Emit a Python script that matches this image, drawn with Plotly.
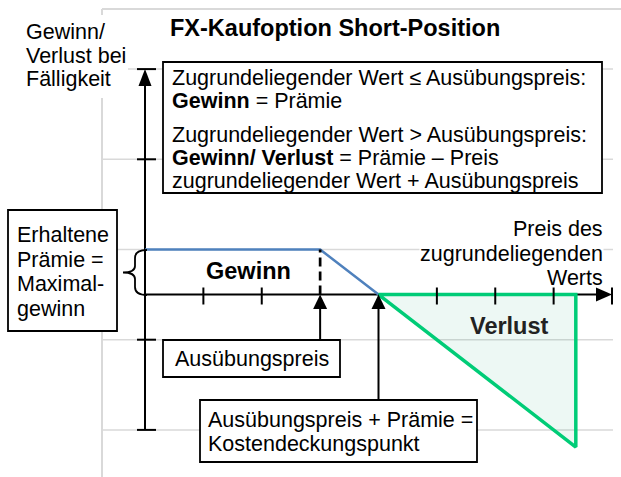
import plotly.graph_objs as go

# --- chart values (price units on x, profit/loss units on y) ---
STRIKE = 3
PREMIUM = 1
BREAK_EVEN = STRIKE + PREMIUM
X_MAX = 8
Y_MIN = -3
Y_MAX = 5

profit_x = [0, STRIKE, BREAK_EVEN]
profit_y = [PREMIUM, PREMIUM, 0]
loss_x = [BREAK_EVEN, 7.38, 7.38, BREAK_EVEN]
loss_y = [0, 0, -3.38, 0]

grid_levels = [5, 3, 1, -1, -3]
y_ticks = [5, 3, -1, -3]
x_ticks = [1, 2, 5, 6, 7, 8]

title_text = "FX-Kaufoption Short-Position"
y_label = ["Gewinn/", "Verlust bei", "Fälligkeit"]
x_label = ["Preis des", "zugrundeliegenden", "Werts"]
premium_label = ["Erhaltene", "Prämie =", "Maximal-", "gewinn"]
rule_lines = [
    "Zugrundeliegender Wert ≤ Ausübungspreis:",
    "<b>Gewinn</b> = Prämie",
    "Zugrundeliegender Wert > Ausübungspreis:",
    "<b>Gewinn/ Verlust</b> = Prämie – Preis",
    "zugrundeliegender Wert + Ausübungspreis",
]
strike_label = "Ausübungspreis"
breakeven_label = ["Ausübungspreis + Prämie =", "Kostendeckungspunkt"]

# --- pixel <-> data helpers (figure is 621 x 477, no margins) ---
W, H = 621, 477
X0, XS = 145, 58.375
Y0, YS = 294.6, 45.1


def dx(px):
    return (px - X0) / XS


def dy(py):
    return (Y0 - py) / YS


def px_x(v):
    return X0 + v * XS


def px_y(v):
    return Y0 - v * YS


FONT = "Liberation Sans, Arial, sans-serif"
BODY = 21.5
BIG = 23.5
GRID = "#d9d9d9"
BLUE = "#4f81bd"
GREEN = "#00cc77"

fig = go.Figure()

# gewinn line
fig.add_trace(go.Scatter(x=profit_x, y=profit_y, mode="lines",
                         line={"color": BLUE, "width": 2.5}, hoverinfo="skip"))
# verlust triangle
fig.add_trace(go.Scatter(x=loss_x, y=loss_y, mode="lines", fill="toself",
                         fillcolor="rgba(0,150,100,0.07)",
                         line={"color": GREEN, "width": 3.5}, hoverinfo="skip"))

shapes = []


def line(x0, y0, x1, y1, color="black", width=2, layer="above", dash="solid"):
    shapes.append(dict(type="line", x0=x0, y0=y0, x1=x1, y1=y1, layer=layer,
                       line={"color": color, "width": width, "dash": dash}))


def rect(px0, py0, px1, py1):
    shapes.append(dict(type="rect", x0=dx(px0), y0=dy(py0), x1=dx(px1), y1=dy(py1),
                       layer="above", fillcolor="white",
                       line={"color": "black", "width": 1.8}))


def path(points, fill=None, width=0):
    d = "M " + " L ".join(f"{dx(a)},{dy(b)}" for a, b in points) + " Z"
    shapes.append(dict(type="path", path=d, layer="above", fillcolor=fill,
                       line={"color": "black", "width": width}))


# frame + grid
line(dx(102), dy(9), dx(102), dy(W), color=GRID, width=2, layer="below")
line(dx(102), dy(9), dx(W), dy(9), color=GRID, width=2, layer="below")
for g in grid_levels:
    line(dx(102), g, dx(613), g, color=GRID, width=1.5, layer="below")
# white patch behind the y label
shapes.append(dict(type="rect", x0=dx(20), y0=dy(15), x1=dx(128), y1=dy(98),
                   layer="below", fillcolor="white", line={"width": 0}))

# axes
line(0, Y_MIN, 0, dy(80), layer="below")
line(0, 0, dx(600), 0, layer="below")
for t in y_ticks:
    line(dx(137), t, dx(156), t)
for t in x_ticks:
    line(t, dy(287.5), t, dy(304.5))
# arrowheads of the axes
path([(px_x(0), px_y(Y_MAX)), (px_x(0) - 6.5, 86), (px_x(0) + 6.5, 86)], fill="black")
path([(px_x(X_MAX), px_y(0)), (596, px_y(0) - 7), (596, px_y(0) + 7)], fill="black")

# dashed strike line
line(STRIKE, 0, STRIKE, PREMIUM, width=2.7, dash="9px,5px")

# arrows to strike and break-even
for v, bottom in [(STRIKE, 340), (BREAK_EVEN, 400)]:
    line(v, dy(bottom), v, dy(307))
    path([(px_x(v), px_y(0)), (px_x(v) - 7, 309), (px_x(v) + 7, 309)], fill="black")

# brace
brace = (f"M {dx(147)},{dy(250)} Q {dx(135)},{dy(250)} {dx(135)},{dy(258)} "
         f"L {dx(135)},{dy(266)} Q {dx(135)},{dy(272.5)} {dx(123)},{dy(272.5)} "
         f"Q {dx(135)},{dy(272.5)} {dx(135)},{dy(279)} L {dx(135)},{dy(287)} "
         f"Q {dx(135)},{dy(295)} {dx(147)},{dy(295)}")
shapes.append(dict(type="path", path=brace, layer="above",
                   line={"color": "black", "width": 1.8}))

# boxes
rect(163, 62, 602, 193)
rect(8, 210, 117, 331)
rect(163, 340, 340, 377)
rect(200, 400, 477, 462)

annotations = []


def text(s, px, py, size=BODY, anchor="left", bold=False, color="black", bg=None):
    if bold:
        s = f"<b>{s}</b>"
    annotations.append(dict(text=s, x=dx(px), y=dy(py), xanchor=anchor, yanchor="middle",
                            showarrow=False, bgcolor=bg, borderpad=0,
                            font={"family": FONT, "size": size, "color": color}))


text(title_text, 169, 28, size=BIG, bold=True)
for i, s in enumerate(y_label):
    text(s, 25, 32 + i * 23.5)
for i, s in enumerate(x_label):
    text(s, 604, 229 + i * 24.5, anchor="right", bg="white" if i == 1 else None)
for i, s in enumerate(premium_label):
    text(s, 16, 235 + i * 24.5)
for s, yy in zip(rule_lines, [78, 101, 135, 158, 181]):
    text(s, 171, yy)
text(strike_label, 251.5, 358.5, anchor="center")
for i, s in enumerate(breakeven_label):
    text(s, 207, 420 + i * 24)
text("Gewinn", 248, 271, size=BIG, anchor="center", bold=True)
text("Verlust", 509.5, 326, size=BIG, anchor="center", bold=True, color="#222222")

fig.update_layout(
    width=W, height=H,
    margin={"l": 0, "r": 0, "t": 0, "b": 0},
    paper_bgcolor="white", plot_bgcolor="white",
    showlegend=False,
    shapes=shapes, annotations=annotations,
    xaxis={"range": [dx(0), dx(W)], "visible": False, "fixedrange": True},
    yaxis={"range": [dy(H), dy(0)], "visible": False, "fixedrange": True},
)

# the page body has a default 8px margin; drop it so the figure sits at 0,0
fig.write_html("out.html", config={"displayModeBar": False},
               post_script="document.body.style.margin='0';")
